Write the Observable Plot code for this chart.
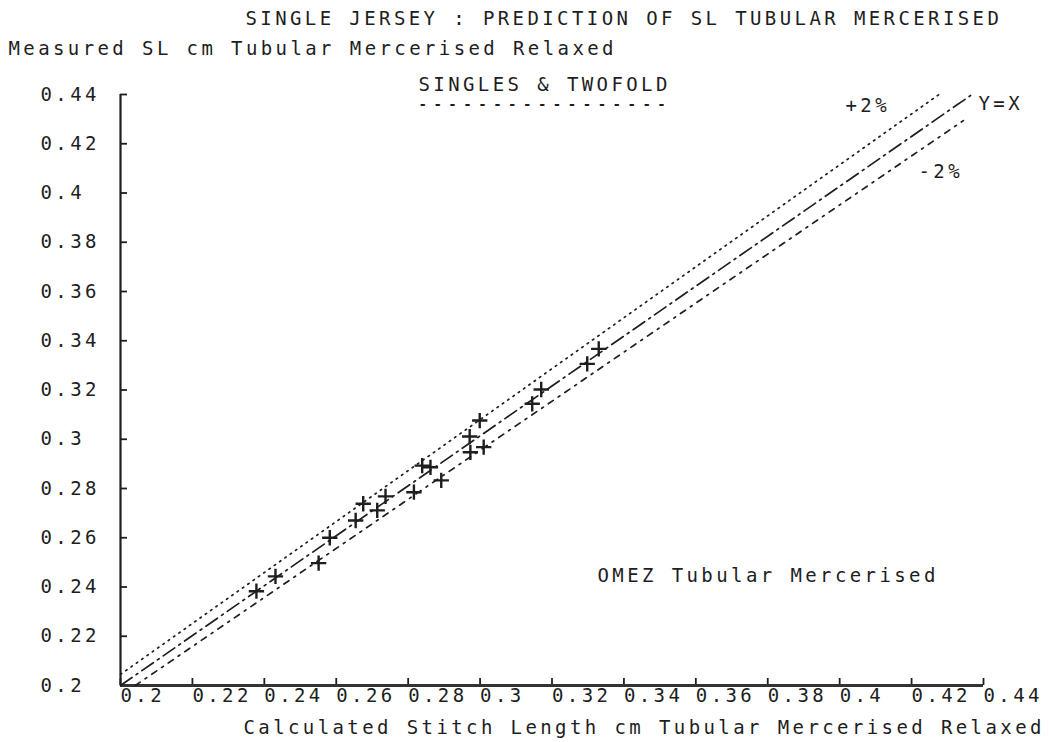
<!DOCTYPE html>
<html>
<head>
<meta charset="utf-8">
<script src="https://cdn.jsdelivr.net/npm/d3@7"></script>
<script src="https://cdn.jsdelivr.net/npm/@observablehq/plot@0.6"></script>
<style>
  html, body { margin: 0; padding: 0; background: #fff; }
</style>
</head>
<body>
<div id="chart"></div>
<script>
// ---- data ----
const calculatedSL = [0.2378, 0.2431, 0.2551, 0.2582, 0.2654, 0.2675, 0.2714, 0.2737, 0.2816, 0.2892,
                      0.2839, 0.2862, 0.2973, 0.3010, 0.2971, 0.2999, 0.3145, 0.3170, 0.3298, 0.3330];
const measuredSL   = [0.2383, 0.2443, 0.2497, 0.2600, 0.2670, 0.2738, 0.2711, 0.2768, 0.2785, 0.2833,
                      0.2893, 0.2886, 0.2947, 0.2968, 0.3011, 0.3076, 0.3144, 0.3202, 0.3306, 0.3367];

// reference lines (start and end points)
const lineNames = ["+2%", "Y=X", "-2%"];
const lineX = [[0.2, 0.428], [0.2, 0.4364], [0.2041, 0.4344]];
const lineY = [[0.2045, 0.4404], [0.2, 0.4396], [0.2, 0.4294]];
const lineDash = ["1.5,5", "14,5,2,5", "6,6,2,6"];

const xTicks = [0.2, 0.22, 0.24, 0.26, 0.28, 0.3, 0.32, 0.34, 0.36, 0.38, 0.4, 0.42, 0.44];
const xTickLabels = ["0.2", "0.22", "0.24", "0.26", "0.28", "0.3", "0.32", "0.34", "0.36", "0.38", "0.4", "0.42", "0.44"];
const yTicks = [0.2, 0.22, 0.24, 0.26, 0.28, 0.3, 0.32, 0.34, 0.36, 0.38, 0.4, 0.42, 0.44];
const yTickLabels = ["0.2", "0.22", "0.24", "0.26", "0.28", "0.3", "0.32", "0.34", "0.36", "0.38", "0.4", "0.42", "0.44"];

const title = "SINGLE JERSEY : PREDICTION OF SL TUBULAR MERCERISED";
const yTitle = "Measured SL cm Tubular Mercerised Relaxed";
const xTitle = "Calculated Stitch Length cm Tubular Mercerised Relaxed";
const groupTitle = "SINGLES & TWOFOLD";
const groupUnderline = "-----------------";
const noteText = "OMEZ Tubular Mercerised";

// ---- build tables ----
const points = calculatedSL.map((x, i) => ({x, y: measuredSL[i]}));
const lines = lineNames.flatMap((name, i) => [
  {name, x: lineX[i][0], y: lineY[i][0]},
  {name, x: lineX[i][1], y: lineY[i][1]}
]);

const ink = "#1e1e1e";
const W = 1049, H = 742;
const mL = 120, mR = 66, mT = 94, mB = 57;
const fw = W - mL - mR, fh = H - mT - mB;
const font = "'DejaVu Sans Mono', monospace";
const fs = 19;

const xLabelMap = new Map(xTicks.map((t, i) => [t, xTickLabels[i]]));
const yLabelMap = new Map(yTicks.map((t, i) => [t, yTickLabels[i]]));

const lineMarks = lineNames.map((name, i) =>
  Plot.line(lines.filter(d => d.name === name), {
    x: "x", y: "y", stroke: ink, strokeWidth: 1.7, strokeDasharray: lineDash[i]
  })
);

const txt = (s, opts) => Plot.text([s], {text: d => d, fill: ink, fontSize: fs, textAnchor: "start", lineAnchor: "middle", ...opts});

const chart = Plot.plot({
  width: W, height: H,
  marginLeft: mL, marginRight: mR, marginTop: mT, marginBottom: mB,
  x: {domain: [0.2, 0.44]},
  y: {domain: [0.2, 0.44]},
  style: {fontFamily: font, fontSize: fs + "px", letterSpacing: "3.4px", color: ink, background: "#fff"},
  marks: [
    // tick labels
    Plot.axisY({ticks: yTicks, tickFormat: d => yLabelMap.get(d), tickSize: 0, tickPadding: 80, textAnchor: "start", label: null, fontSize: fs}),
    Plot.axisX({ticks: xTicks, tickFormat: d => xLabelMap.get(d), tickSize: 0, tickPadding: 3, textAnchor: "start", label: null, fontSize: fs}),
    // inward ticks
    Plot.ruleY(yTicks, {stroke: ink, strokeWidth: 1.8, insetRight: fw - 7}),
    Plot.ruleX(xTicks, {stroke: ink, strokeWidth: 1.8, insetTop: fh - 7}),
    // axis lines
    Plot.ruleX([0.2], {stroke: ink, strokeWidth: 2.2}),
    Plot.ruleY([0.2], {stroke: "#333", strokeWidth: 3}),
    // reference lines
    ...lineMarks,
    // data points
    Plot.dot(points, {x: "x", y: "y", symbol: "plus", r: 5, stroke: ink, strokeWidth: 2.4}),
    // texts
    txt(title, {frameAnchor: "top-left", dx: 125, dy: -76}),
    txt(yTitle, {frameAnchor: "top-left", dx: -112, dy: -46}),
    txt(groupTitle, {frameAnchor: "top-left", dx: 298, dy: -10}),
    Plot.text([groupUnderline], {text: d => d, fill: ink, fontSize: 14, fontWeight: "bold", textAnchor: "start", lineAnchor: "middle",
      frameAnchor: "top-left", dx: 298, dy: 10, style: {letterSpacing: "6.5px"}}),
    txt("+2%", {frameAnchor: "top-left", dx: 725, dy: 11}),
    txt("Y=X", {frameAnchor: "top-left", dx: 858, dy: 9}),
    txt("-2%", {frameAnchor: "top-left", dx: 798, dy: 77}),
    txt(noteText, {frameAnchor: "top-left", dx: 477, dy: 481}),
    txt(xTitle, {frameAnchor: "bottom-left", dx: 123, dy: 42})
  ]
});

// letter spacing for the underline text (smaller font, wider spacing)
chart.querySelectorAll("text").forEach(t => {
  if (t.textContent === groupUnderline) t.setAttribute("letter-spacing", "6.5px");
});

document.getElementById("chart").appendChild(chart);
</script>
</body>
</html>
